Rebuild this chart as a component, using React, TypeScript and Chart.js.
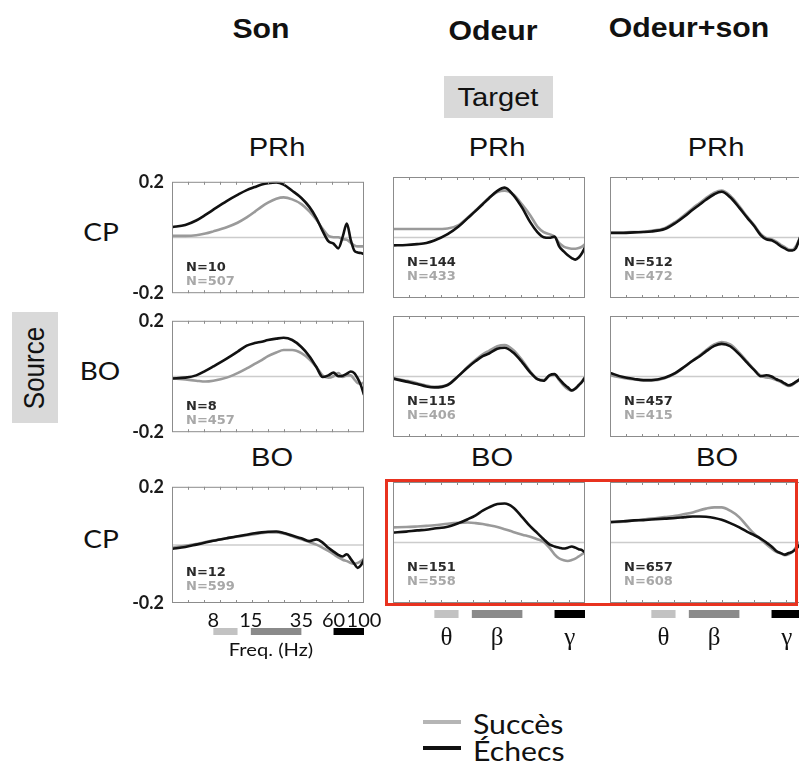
import React, { useEffect, useRef } from "react";
import { Chart, registerables } from "chart.js";

Chart.register(...registerables);

// ---------- data ----------
const frequencies = [4, 5, 6, 7, 8, 10, 12, 14, 16, 18, 20, 23, 26, 30, 35, 40, 45, 50, 55, 60, 65, 70, 75, 80, 85, 90, 95, 100];

// Row 1 : Source CP -> Target PRh
const sonCpPrhEchecs = [0.037, 0.045, 0.061, 0.081, 0.1, 0.131, 0.153, 0.17, 0.181, 0.19, 0.195, 0.198, 0.19, 0.168, 0.142, 0.11, 0.07, 0.023, -0.013, -0.022, -0.039, 0.003, 0.05, -0.008, -0.047, -0.054, -0.056, -0.059];
const sonCpPrhSucces = [0.006, 0.006, 0.008, 0.014, 0.022, 0.037, 0.053, 0.072, 0.092, 0.111, 0.125, 0.139, 0.144, 0.137, 0.12, 0.094, 0.064, 0.031, 0.006, 0.001, 0.001, -0.006, -0.008, -0.019, -0.028, -0.032, -0.032, -0.032];
const odeurCpPrhEchecs = [-0.026, -0.025, -0.022, -0.018, -0.01, 0.011, 0.036, 0.064, 0.088, 0.11, 0.13, 0.154, 0.165, 0.141, 0.097, 0.05, 0.018, 0.001, -0.001, 0.003, -0.03, -0.046, -0.059, -0.068, -0.073, -0.066, -0.052, -0.033];
const odeurCpPrhSucces = [0.028, 0.028, 0.028, 0.028, 0.028, 0.03, 0.041, 0.066, 0.09, 0.112, 0.131, 0.15, 0.155, 0.143, 0.108, 0.073, 0.036, 0.018, 0.011, 0.003, -0.019, -0.03, -0.035, -0.037, -0.037, -0.035, -0.03, -0.022];
const odeurSonCpPrhEchecs = [0.015, 0.015, 0.017, 0.018, 0.02, 0.028, 0.048, 0.07, 0.092, 0.109, 0.125, 0.143, 0.151, 0.133, 0.098, 0.065, 0.037, 0.008, -0.006, -0.009, -0.018, -0.029, -0.036, -0.043, -0.043, -0.036, -0.01, 0.02];
const odeurSonCpPrhSucces = [0.017, 0.017, 0.018, 0.019, 0.022, 0.031, 0.052, 0.075, 0.097, 0.114, 0.13, 0.148, 0.155, 0.138, 0.103, 0.068, 0.04, 0.012, -0.002, -0.006, -0.014, -0.024, -0.032, -0.04, -0.041, -0.03, -0.008, 0.015];

// Row 2 : Source BO -> Target PRh
const sonBoPrhEchecs = [-0.007, -0.004, 0.004, 0.02, 0.036, 0.064, 0.089, 0.111, 0.12, 0.125, 0.131, 0.136, 0.139, 0.131, 0.106, 0.073, 0.034, -0.002, 0.004, 0.014, 0.001, 0.003, 0.01, 0.018, 0.012, -0.007, -0.032, -0.066];
const sonBoPrhSucces = [-0.007, -0.011, -0.015, -0.018, -0.015, -0.004, 0.012, 0.029, 0.045, 0.059, 0.073, 0.086, 0.095, 0.095, 0.084, 0.062, 0.034, 0.004, -0.004, 0.001, 0.012, -0.002, 0.004, 0.004, -0.01, -0.024, -0.026, -0.021];
const odeurBoPrhEchecs = [-0.007, -0.017, -0.025, -0.033, -0.036, -0.028, 0.002, 0.03, 0.051, 0.067, 0.076, 0.092, 0.095, 0.079, 0.046, 0.013, -0.009, -0.014, 0.004, 0.008, -0.009, -0.025, -0.036, -0.046, -0.04, -0.029, -0.018, -0.003];
const odeurBoPrhSucces = [-0.005, -0.014, -0.022, -0.03, -0.034, -0.027, 0.002, 0.032, 0.055, 0.073, 0.085, 0.1, 0.104, 0.088, 0.053, 0.016, -0.008, -0.012, 0.002, 0.006, -0.012, -0.03, -0.042, -0.047, -0.04, -0.028, -0.016, -0.002];
const odeurSonBoPrhEchecs = [0.012, -0.002, -0.008, -0.012, -0.012, -0.004, 0.012, 0.033, 0.052, 0.067, 0.083, 0.101, 0.108, 0.1, 0.073, 0.045, 0.021, 0.001, 0.004, 0.0, -0.009, -0.015, -0.023, -0.029, -0.025, -0.018, -0.011, -0.004];
const odeurSonBoPrhSucces = [0.004, -0.005, -0.01, -0.013, -0.013, -0.006, 0.01, 0.032, 0.053, 0.07, 0.087, 0.106, 0.114, 0.106, 0.078, 0.048, 0.022, 0.003, -0.003, -0.006, -0.012, -0.018, -0.026, -0.031, -0.028, -0.02, -0.012, -0.005];

// Row 3 : Source CP -> Target BO
const sonCpBoEchecs = [-0.014, -0.007, 0.001, 0.008, 0.014, 0.023, 0.03, 0.035, 0.04, 0.043, 0.045, 0.046, 0.041, 0.032, 0.023, 0.013, 0.019, 0.008, -0.01, -0.023, -0.034, -0.04, -0.032, -0.048, -0.065, -0.079, -0.07, -0.051];
const sonCpBoSucces = [-0.01, -0.003, 0.003, 0.01, 0.015, 0.023, 0.029, 0.033, 0.037, 0.041, 0.043, 0.043, 0.039, 0.03, 0.019, 0.01, 0.001, -0.01, -0.021, -0.032, -0.043, -0.051, -0.056, -0.062, -0.065, -0.062, -0.056, -0.047];
const odeurCpBoEchecs = [0.033, 0.036, 0.04, 0.042, 0.046, 0.052, 0.064, 0.077, 0.09, 0.105, 0.116, 0.127, 0.129, 0.116, 0.083, 0.053, 0.031, 0.011, -0.006, -0.013, -0.017, -0.02, -0.017, -0.013, -0.017, -0.022, -0.025, -0.033];
const odeurCpBoSucces = [0.05, 0.051, 0.053, 0.055, 0.057, 0.062, 0.065, 0.066, 0.064, 0.061, 0.057, 0.051, 0.044, 0.035, 0.026, 0.019, 0.011, 0.002, -0.017, -0.039, -0.053, -0.059, -0.061, -0.058, -0.053, -0.046, -0.039, -0.031];
const odeurSonCpBoEchecs = [0.068, 0.07, 0.073, 0.074, 0.076, 0.079, 0.081, 0.084, 0.086, 0.086, 0.085, 0.081, 0.075, 0.064, 0.05, 0.035, 0.024, 0.013, 0.0, -0.013, -0.028, -0.035, -0.04, -0.035, -0.031, -0.022, -0.011, 0.0];
const odeurSonCpBoSucces = [0.066, 0.069, 0.073, 0.076, 0.079, 0.084, 0.088, 0.094, 0.099, 0.107, 0.112, 0.116, 0.116, 0.105, 0.083, 0.053, 0.028, 0.011, -0.006, -0.02, -0.031, -0.036, -0.042, -0.039, -0.031, -0.017, -0.002, 0.011];

const nEchecs = [
  [10, 144, 512],
  [8, 115, 457],
  [12, 151, 657],
];
const nSucces = [
  [507, 433, 472],
  [457, 406, 415],
  [599, 558, 608],
];

const yTickLabels = [-0.2, 0.2];
const freqTickLabels = [8, 15, 35, 60, 100];
const bandNames = ["θ", "β", "γ"];
const bandLow = [8, 15, 60];
const bandHigh = [12, 35, 100];

const columnTitles = ["Son", "Odeur", "Odeur+son"];
const rowSources = ["CP", "BO", "CP"];
const rowTargets = ["PRh", "", "BO"];

const panelSeries = [
  [[sonCpPrhEchecs, sonCpPrhSucces], [odeurCpPrhEchecs, odeurCpPrhSucces], [odeurSonCpPrhEchecs, odeurSonCpPrhSucces]],
  [[sonBoPrhEchecs, sonBoPrhSucces], [odeurBoPrhEchecs, odeurBoPrhSucces], [odeurSonBoPrhEchecs, odeurSonBoPrhSucces]],
  [[sonCpBoEchecs, sonCpBoSucces], [odeurCpBoEchecs, odeurCpBoSucces], [odeurSonCpBoEchecs, odeurSonCpBoSucces]],
];

// ---------- layout / style ----------
const COL_LEFT = [172, 393, 610];
const ROW_TOP = [177, 316, 482];
const BOX_W = 192;
const BOX_H = 121;
const PAD_T = 14;
const PAD_R = 24;
const Y_AXIS_W = 45;
const BAND_COLORS = ["#c2c2c2", "#8a8a8a", "#000000"];
const COLOR_ECHECS = "#111111";
const COLOR_SUCCES = "#9a9a9a";
const SX = 1.12;

const decorPlugin = {
  id: "decor",
  beforeDatasetsDraw(chart: any) {
    const { ctx, chartArea: a } = chart;
    const y0 = chart.scales.y.getPixelForValue(0);
    ctx.save();
    ctx.strokeStyle = "#cccccc";
    ctx.lineWidth = 1.5;
    ctx.beginPath();
    ctx.moveTo(a.left, y0);
    ctx.lineTo(a.right, y0);
    ctx.stroke();
    ctx.restore();
  },
  afterDatasetsDraw(chart: any, _args: any, opts: any) {
    const { ctx, chartArea: a } = chart;
    ctx.save();
    ctx.strokeStyle = "#8c8c8c";
    ctx.lineWidth = 1;
    ctx.strokeRect(a.left + 0.5, a.top + 0.5, a.right - a.left - 1, a.bottom - a.top - 1);
    const n = 12;
    ctx.beginPath();
    for (let i = 1; i < n; i++) {
      const x = Math.round(a.left + ((a.right - a.left) * i) / n) + 0.5;
      ctx.moveTo(x, a.top);
      ctx.lineTo(x, a.top + 3);
      ctx.moveTo(x, a.bottom);
      ctx.lineTo(x, a.bottom - 3);
    }
    ctx.stroke();

    ctx.font = 'bold 13px "DejaVu Sans"';
    ctx.textBaseline = "middle";
    ctx.textAlign = "left";
    ctx.fillStyle = "#2a2a2a";
    ctx.fillText(opts.nE, a.left + 14, a.top + 86);
    ctx.fillStyle = "#a8a8a8";
    ctx.fillText(opts.nS, a.left + 14, a.top + 100);

    if (opts.mode !== "none") {
      const xs = chart.scales.x;
      const freq = opts.mode === "freq";
      const barTop = a.bottom + (freq ? 25 : 7);
      const barH = freq ? 7 : 8;
      bandLow.forEach((lo, i) => {
        const x1 = xs.getPixelForValue(lo);
        const x2 = xs.getPixelForValue(bandHigh[i]);
        ctx.fillStyle = BAND_COLORS[i];
        ctx.fillRect(x1, barTop, x2 - x1, barH);
        if (!freq) {
          ctx.fillStyle = "#111";
          ctx.font = '25px "Liberation Serif"';
          ctx.textAlign = "center";
          ctx.textBaseline = "alphabetic";
          ctx.fillText(bandNames[i], (x1 + x2) / 2, a.bottom + 42);
        }
      });
      if (freq) {
        ctx.fillStyle = "#111";
        ctx.font = '20px "Lato"';
        ctx.textAlign = "center";
        ctx.textBaseline = "alphabetic";
        freqTickLabels.forEach((f) => {
          ctx.fillText(String(f), xs.getPixelForValue(f), a.bottom + 24);
        });
      }
    }
    ctx.restore();
  },
};

function Panel({ r, c }: { r: number; c: number }) {
  const ref = useRef<HTMLCanvasElement>(null);
  const padL = c === 0 ? 2 : 4;
  const axisW = c === 0 ? Y_AXIS_W : 0;
  const padB = r === 2 ? 52 : 14;
  const left = COL_LEFT[c] - padL - axisW;
  const top = ROW_TOP[r] - PAD_T;
  const width = padL + axisW + BOX_W + PAD_R;
  const height = PAD_T + BOX_H + padB;

  useEffect(() => {
    const [echecs, succes] = panelSeries[r][c];
    const chart = new Chart(ref.current as HTMLCanvasElement, {
      type: "line",
      data: {
        datasets: [
          {
            label: "Échecs",
            data: frequencies.map((f, i) => ({ x: f, y: echecs[i] })),
            borderColor: COLOR_ECHECS,
            borderWidth: 2.6,
            pointRadius: 0,
            cubicInterpolationMode: "monotone",
            order: 0,
          },
          {
            label: "Succès",
            data: frequencies.map((f, i) => ({ x: f, y: succes[i] })),
            borderColor: COLOR_SUCCES,
            borderWidth: 2.6,
            pointRadius: 0,
            cubicInterpolationMode: "monotone",
            order: 1,
          },
        ],
      },
      options: {
        responsive: false,
        maintainAspectRatio: false,
        animation: false,
        events: [],
        layout: { padding: { left: padL, right: PAD_R, top: PAD_T, bottom: padB } },
        plugins: {
          legend: { display: false },
          tooltip: { enabled: false },
          decor: {
            nE: "N=" + nEchecs[r][c],
            nS: "N=" + nSucces[r][c],
            mode: r === 2 ? (c === 0 ? "freq" : "greek") : "none",
          },
        } as any,
        scales: {
          x: { type: "logarithmic", min: 4, max: 100, display: false },
          y: {
            min: -0.2,
            max: 0.2,
            display: c === 0,
            afterBuildTicks: (s: any) => {
              s.ticks = yTickLabels.map((v) => ({ value: v }));
            },
            afterFit: (s: any) => {
              s.width = axisW;
            },
            ticks: {
              padding: 8,
              color: "#1a1a1a",
              font: { family: "Lato", size: 18, weight: "bold" },
              callback: (v: any) => Number(v).toFixed(1),
            },
            grid: { display: false, drawTicks: false },
            border: { display: false },
          },
        },
      },
      plugins: [decorPlugin as any],
    });
    return () => chart.destroy();
  }, [r, c]);

  return (
    <canvas
      ref={ref}
      width={width}
      height={height}
      style={{ position: "absolute", left, top, width, height }}
    />
  );
}

function Label({
  x,
  y,
  text,
  size,
  weight = 400,
  family = '"Liberation Sans", Arial, sans-serif',
  align = "center",
}: {
  x: number;
  y: number;
  text: string;
  size: number;
  weight?: number;
  family?: string;
  align?: "center" | "left";
}) {
  const tr = align === "center" ? `translate(-50%, -50%) scaleX(${SX})` : `translate(0, -50%) scaleX(${SX})`;
  return (
    <div
      style={{
        position: "absolute",
        left: x,
        top: y,
        transform: tr,
        transformOrigin: align === "center" ? "50% 50%" : "0 50%",
        fontSize: size,
        fontWeight: weight,
        fontFamily: family,
        lineHeight: 1,
        whiteSpace: "nowrap",
        color: "#111",
      }}
    >
      {text}
    </div>
  );
}

const headerPos = [
  [260.5, 29],
  [492.5, 31],
  [688.5, 28],
];
const targetTitleX = [
  [276.5, 497, 716],
  [0, 0, 0],
  [272, 491.5, 716.5],
];
const targetTitleY = [147, 0, 457];
const sourcePos = [
  [101, 231],
  [100, 370],
  [101, 538],
];

export default function App() {
  const panels: React.ReactNode[] = [];
  for (let r = 0; r < 3; r++) for (let c = 0; c < 3; c++) panels.push(<Panel key={`${r}-${c}`} r={r} c={c} />);

  return (
    <div
      style={{
        position: "absolute",
        left: 0,
        top: 0,
        width: 799,
        height: 765,
        overflow: "hidden",
        background: "#fff",
        fontFamily: '"Liberation Sans", Arial, sans-serif',
      }}
    >
      {columnTitles.map((t, i) => (
        <Label key={t} x={headerPos[i][0]} y={headerPos[i][1]} text={t} size={27} weight={700} />
      ))}

      <div style={{ position: "absolute", left: 444, top: 76, width: 109, height: 42, background: "#d9d9d9" }} />
      <Label x={497.5} y={97} text="Target" size={26} />

      <div style={{ position: "absolute", left: 12, top: 312, width: 46, height: 111, background: "#d9d9d9" }} />
      <div
        style={{
          position: "absolute",
          left: 34,
          top: 368,
          transform: `translate(-50%, -50%) scaleX(${SX}) rotate(-90deg)`,
          fontSize: 26,
          lineHeight: 1,
          whiteSpace: "nowrap",
          color: "#111",
        }}
      >
        Source
      </div>

      {rowTargets.map((t, r) =>
        t
          ? [0, 1, 2].map((c) => <Label key={`t${r}${c}`} x={targetTitleX[r][c]} y={targetTitleY[r]} text={t} size={26} />)
          : null
      )}

      {rowSources.map((s, r) => (
        <Label key={`s${r}`} x={sourcePos[r][0]} y={sourcePos[r][1]} text={s} size={25} family="Lato, sans-serif" />
      ))}

      {panels}

      <Label x={271} y={649} text="Freq. (Hz)" size={18} family="Lato, sans-serif" />

      <div
        style={{
          position: "absolute",
          left: 385,
          top: 479,
          width: 413,
          height: 127,
          border: "3px solid #e8321f",
          boxSizing: "border-box",
          pointerEvents: "none",
        }}
      />

      <div style={{ position: "absolute", left: 423, top: 720, width: 38, height: 4, background: "#b5b5b5" }} />
      <div style={{ position: "absolute", left: 423, top: 746, width: 38, height: 4, background: "#111" }} />
      <Label x={473} y={723} text="Succès" size={27} family="Lato, sans-serif" align="left" />
      <Label x={473} y={750} text="Échecs" size={27} family="Lato, sans-serif" align="left" />
    </div>
  );
}
